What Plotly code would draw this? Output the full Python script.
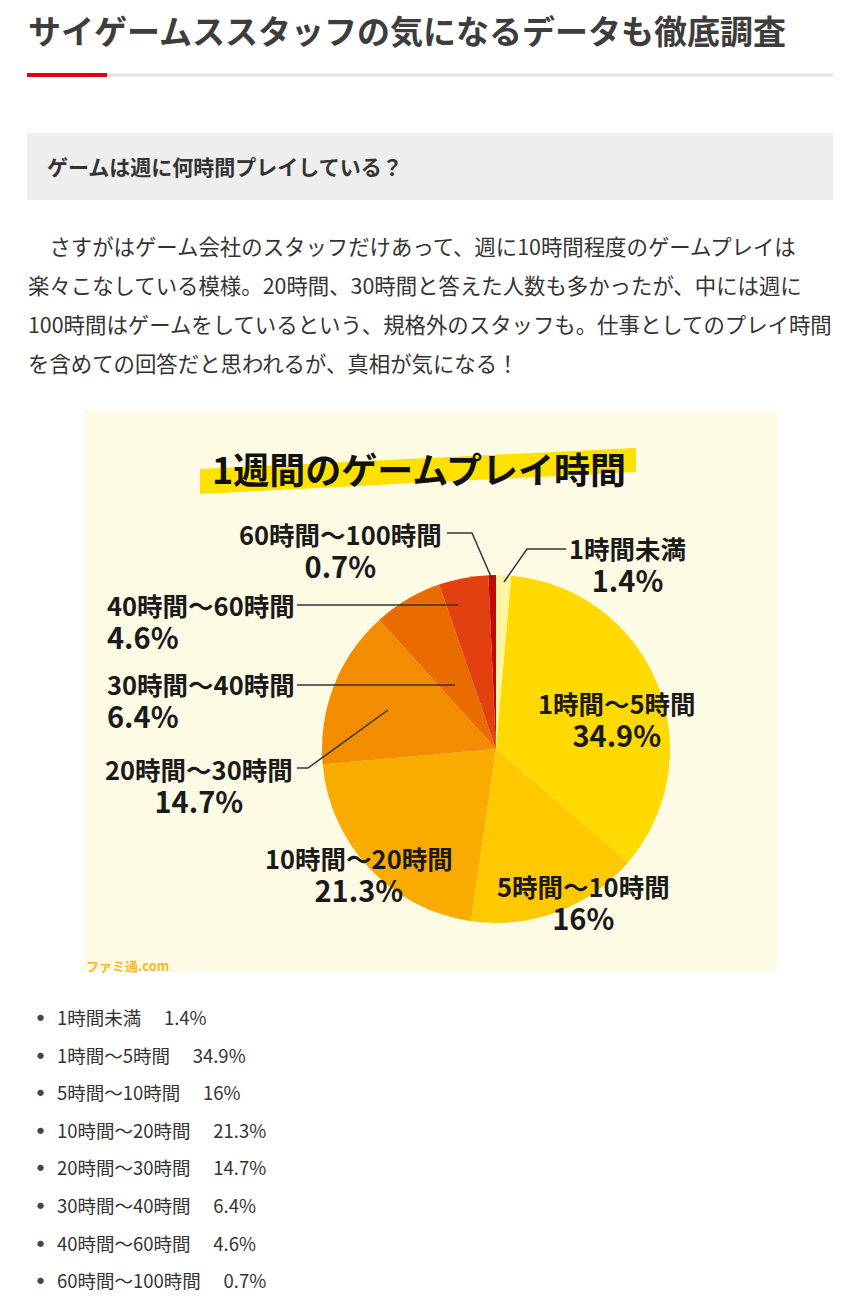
import plotly.graph_objects as go

W, H = 850, 1313

def px(x):
    return x / W

def py(y):
    return 1 - y / H

# ---------------- data ----------------
categories = ["1時間未満", "1時間〜5時間", "5時間〜10時間", "10時間〜20時間",
              "20時間〜30時間", "30時間〜40時間", "40時間〜60時間", "60時間〜100時間"]
shares = [1.4, 34.9, 16, 21.3, 14.7, 6.4, 4.6, 0.7]
slice_colors = ["#fff4a3", "#ffd900", "#ffc800", "#f9ab00",
                "#f28c00", "#ea6b00", "#e2400f", "#c20a0a"]

page_title = "サイゲームススタッフの気になるデータも徹底調査"
section_title = "ゲームは週に何時間プレイしている？"
paragraph_lines = [
    "　さすがはゲーム会社のスタッフだけあって、週に10時間程度のゲームプレイは",
    "楽々こなしている模様。20時間、30時間と答えた人数も多かったが、中には週に",
    "100時間はゲームをしているという、規格外のスタッフも。仕事としてのプレイ時間",
    "を含めての回答だと思われるが、真相が気になる！",
]
chart_title = "1週間のゲームプレイ時間"

FONT = "Noto Sans CJK JP"

fig = go.Figure()

# pie: center (496,749), r=174
cx, cy, r = 496, 749, 174
fig.add_trace(go.Pie(
    labels=categories, values=shares, sort=False, direction="clockwise",
    rotation=0, textinfo="none", hoverinfo="label+percent",
    marker=dict(colors=slice_colors, line=dict(width=0)),
    domain=dict(x=[px(cx - r), px(cx + r)], y=[py(cy + r), py(cy - r)]),
    showlegend=False,
))

shapes = []
ann = []

# title underline
shapes.append(dict(type="rect", xref="paper", yref="paper", x0=px(27), x1=px(833),
                   y0=py(76.5), y1=py(73.5), fillcolor="#e2e2e2", line=dict(width=0), layer="below"))
shapes.append(dict(type="rect", xref="paper", yref="paper", x0=px(27), x1=px(107),
                   y0=py(77), y1=py(73), fillcolor="#e60012", line=dict(width=0), layer="below"))
# section header box
shapes.append(dict(type="rect", xref="paper", yref="paper", x0=px(27), x1=px(833),
                   y0=py(200), y1=py(133), fillcolor="#eeeeee", line=dict(width=0), layer="below"))
# chart image background
shapes.append(dict(type="rect", xref="paper", yref="paper", x0=px(84), x1=px(777),
                   y0=py(972), y1=py(410), fillcolor="#fefbe5", line=dict(width=0), layer="below"))
# title highlight band
band = [(200, 469), (636, 448), (636, 472), (200, 494)]
path = "M " + " L ".join(f"{px(x)},{py(y)}" for x, y in band) + " Z"
shapes.append(dict(type="path", xref="paper", yref="paper", path=path,
                   fillcolor="#ffe100", line=dict(width=0), layer="below"))

# leader lines
leaders = [
    [(447, 533), (472, 533), (492, 579)],
    [(566, 549), (527, 549), (504, 582)],
    [(297, 605), (458, 605)],
    [(297, 685), (455, 685)],
    [(297, 768), (308, 768), (388, 710)],
]
for pts in leaders:
    p = "M " + " L ".join(f"{px(x)},{py(y)}" for x, y in pts)
    shapes.append(dict(type="path", xref="paper", yref="paper", path=p,
                       line=dict(color="#333333", width=1.5), layer="above"))

def text(x, y, s, size, color="#333333", anchor="left", bold=False, align="left"):
    ann.append(dict(xref="paper", yref="paper", x=px(x), y=py(y), text=f"<b>{s}</b>" if bold else s,
                    showarrow=False, xanchor=anchor, yanchor="middle", align=align,
                    font=dict(family=FONT, size=size, color=color)))

text(26, 30, page_title, 33, "#3d3d3d", bold=True)
text(45, 166, section_title, 21, "#333333", bold=True)
for i, line in enumerate(paragraph_lines):
    text(26, 245 + i * 39, line, 21.4, "#333333")

text(419, 468, chart_title, 36, "#111111", anchor="center", bold=True)

# slice labels: (x, y of block center, anchor)
NS, PS = 25.5, 29
lbl = "#1a1a1a"
label_pos = [
    (627, 565, "center"),
    (617, 719, "center"),
    (583, 902, "center"),
    (359, 874, "center"),
    (199, 785, "center"),
    (105, 701, "left"),
    (105, 621, "left"),
    (340, 550, "center"),
]
for i, (x, y, a) in enumerate(label_pos):
    s = f"{categories[i]}<br><span style='font-size:{PS}px'>{shares[i]:g}%</span>"
    text(x, y, s, NS, lbl, anchor=a, bold=True, align=a)

# watermark
text(84, 965, "ファミ通.com", 13, "#f7b733", bold=True)

# bullet list
for i, (c, v) in enumerate(zip(categories, shares)):
    y = 1017 + i * 37.6
    text(40.5, y, "●", 7, "#444444", anchor="center")
    text(55, y, f"{c}　 {v:g}%", 18.5, "#333333")

fig.update_layout(
    width=W, height=H, margin=dict(l=0, r=0, t=0, b=0),
    paper_bgcolor="white", plot_bgcolor="white",
    shapes=shapes, annotations=ann, showlegend=False,
)
fig.write_html("out.html")
